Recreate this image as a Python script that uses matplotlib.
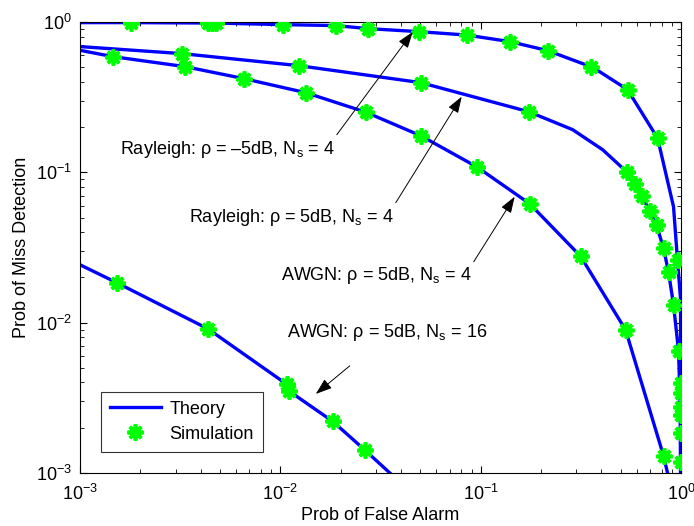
import matplotlib
matplotlib.use("Agg")
import matplotlib.pyplot as plt

plt.rcParams["font.family"] = ["Liberation Sans", "DejaVu Sans"]
plt.rcParams["mathtext.fontset"] = "custom"
plt.rcParams["mathtext.rm"] = "Liberation Sans"
plt.rcParams["mathtext.it"] = "Liberation Sans:italic"

# Rayleigh, rho = -5 dB, Ns = 4
ray_m5_pf_th = [1e-3, 0.0018, 0.0048, 0.0103, 0.0189, 0.0273, 0.049, 0.085, 0.14,
                0.216, 0.354, 0.392, 0.541, 0.764, 0.9175, 0.9605, 0.995, 0.995]
ray_m5_pm_th = [0.992, 0.992, 0.985, 0.962, 0.948, 0.905, 0.864, 0.82, 0.7415,
                0.646, 0.5055, 0.468, 0.3552, 0.1689, 0.0591, 0.026, 0.0142, 0.001]
ray_m5_pf_sim = [0.0018, 0.00435, 0.00455, 0.0048, 0.0103, 0.0189, 0.0273, 0.049,
                 0.085, 0.14, 0.216, 0.354, 0.541, 0.764, 0.9605, 0.995, 0.995,
                 0.995, 0.995]
ray_m5_pm_sim = [0.992, 0.992, 0.992, 0.992, 0.962, 0.948, 0.905, 0.864, 0.826,
                 0.7415, 0.646, 0.5055, 0.3552, 0.1689, 0.026, 0.00398, 0.00275,
                 0.00185, 0.00119]

# Rayleigh, rho = 5 dB, Ns = 4
ray_5_pf_th = [1e-3, 0.003226, 0.01237, 0.0502, 0.1735, 0.2877, 0.406, 0.5349,
               0.5863, 0.6353, 0.6965, 0.7547, 0.818, 0.8664, 0.9175, 0.9716,
               0.99, 0.995]
ray_5_pm_th = [0.687, 0.617, 0.513, 0.3956, 0.2535, 0.1924, 0.1416, 0.101,
               0.0834, 0.0699, 0.0556, 0.0445, 0.0313, 0.02163, 0.01315, 0.0065,
               0.003, 0.001]
ray_5_pf_sim = [0.003226, 0.01237, 0.0502, 0.1735, 0.5349, 0.5863, 0.6353, 0.6965,
                0.7547, 0.818, 0.8664, 0.9175, 0.9716, 0.995, 0.995]
ray_5_pm_sim = [0.617, 0.513, 0.3956, 0.2535, 0.101, 0.0834, 0.0699, 0.0556,
                0.0445, 0.0313, 0.02163, 0.01315, 0.0065, 0.00341, 0.00243]

# AWGN, rho = 5 dB, Ns = 4
awgn4_pf_th = [1e-3, 0.00146, 0.00334, 0.00658, 0.01341, 0.02669, 0.0502, 0.0955,
               0.1755, 0.3153, 0.5287, 0.818, 0.8563]
awgn4_pm_th = [0.649, 0.589, 0.5055, 0.4205, 0.339, 0.2516, 0.1754, 0.109,
               0.0619, 0.02765, 0.00896, 0.0013, 0.001]
awgn4_pf_sim = awgn4_pf_th[1:-1]
awgn4_pm_sim = awgn4_pm_th[1:-1]

# AWGN, rho = 5 dB, Ns = 16
awgn16_pf_th = [1e-3, 0.001529, 0.00435, 0.01078, 0.01102, 0.01827, 0.02638, 0.0352]
awgn16_pm_th = [0.02428, 0.01842, 0.0091, 0.003886, 0.003516, 0.002203, 0.001423, 0.001]
awgn16_pf_sim = awgn16_pf_th[1:-1]
awgn16_pm_sim = awgn16_pm_th[1:-1]

blue = (0, 0, 1)
green = (0, 1, 0)
star = (8, 2, 0)

fig = plt.figure(figsize=(6.94, 5.26), dpi=100)
ax = fig.add_axes([0.1153, 0.1008, 0.8660, 0.8572])

curves = [
    (ray_m5_pf_th, ray_m5_pm_th, ray_m5_pf_sim, ray_m5_pm_sim),
    (ray_5_pf_th, ray_5_pm_th, ray_5_pf_sim, ray_5_pm_sim),
    (awgn4_pf_th, awgn4_pm_th, awgn4_pf_sim, awgn4_pm_sim),
    (awgn16_pf_th, awgn16_pm_th, awgn16_pf_sim, awgn16_pm_sim),
]
for i, (xt, yt, xs, ys) in enumerate(curves):
    ax.loglog(xt, yt, color=blue, lw=2.4, label="Theory" if i == 0 else None, zorder=2)
    ax.loglog(xs, ys, ls="none", marker=star, ms=11.5, mew=2.7, mec=green, mfc=green,
              label="Simulation" if i == 0 else None, zorder=3)

ax.set_xlim(1e-3, 1)
ax.set_ylim(1e-3, 1)
ax.set_xlabel("Prob of False Alarm", fontsize=13, labelpad=2)
ax.set_ylabel("Prob of Miss Detection", fontsize=13, labelpad=4)
ax.tick_params(which="both", direction="in", top=True, right=True, labelsize=13)
ax.tick_params(axis="x", which="major", pad=8)
ax.tick_params(axis="y", which="major", pad=6)
ax.tick_params(which="major", length=5)
ax.tick_params(which="minor", length=3)
for s in ax.spines.values():
    s.set_linewidth(0.8)

arrow = dict(arrowstyle="-|>,head_length=1.0,head_width=0.35", color="k", lw=0.7,
             shrinkA=0, shrinkB=0)
labels = [
    ("Rayleigh: ρ = –5dB, N$_\\mathregular{s}$ = 4", (0.001583, 0.1416), (0.01913, 0.1781), (0.0458, 0.86)),
    ("Rayleigh: ρ = 5dB, N$_\\mathregular{s}$ = 4", (0.003497, 0.0499), (0.03767, 0.0628), (0.0804, 0.319)),
    ("AWGN: ρ = 5dB, N$_\\mathregular{s}$ = 4", (0.01006, 0.0205), (0.0923, 0.02542), (0.1478, 0.0689)),
    ("AWGN: ρ = 5dB, N$_\\mathregular{s}$ = 16", (0.01078, 0.00856), (0.0222, 0.00516), (0.01503, 0.003357)),
]
for txt, pos, tail, tip in labels:
    ax.text(pos[0], pos[1], txt, fontsize=13, ha="left", va="center")
    ax.annotate("", xy=tip, xytext=tail, arrowprops=arrow)

leg = ax.legend(loc="lower left", bbox_to_anchor=(0.035, 0.047), fontsize=13,
                frameon=True, fancybox=False, edgecolor="k", borderpad=0.5,
                handlelength=2.8, handletextpad=0.5, labelspacing=0.45,
                borderaxespad=0)
leg.get_frame().set_linewidth(0.8)

fig.savefig("out.png", dpi=100)
